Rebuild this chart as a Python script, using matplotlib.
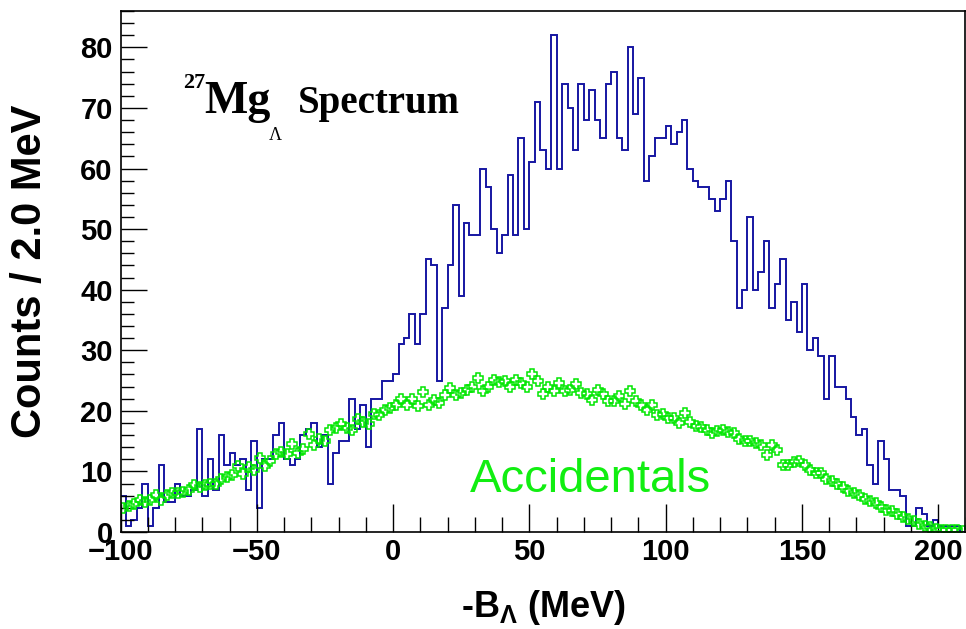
import numpy as np
import matplotlib
matplotlib.use("Agg")
import matplotlib.pyplot as plt
from matplotlib.ticker import MultipleLocator

# binning of the spectrum (MeV)
bin_lo = -100
bin_hi = 210
bin_w = 2

# Mg-27 Lambda spectrum, counts per 2 MeV bin
counts = [
    6, 1, 2, 4, 8, 1, 4, 11, 5, 5,
    8, 6, 6, 7, 17, 6, 12, 7, 16, 11,
    13, 11, 12, 7, 15, 4, 12, 12, 16, 18,
    12, 11, 12, 16, 17, 18, 14, 16, 8, 13,
    15, 15, 22, 17, 21, 14, 22, 22, 25, 25,
    26, 31, 32, 36, 31, 36, 45, 44, 25, 37,
    44, 54, 39, 51, 49, 49, 60, 57, 50, 46,
    49, 59, 49, 65, 50, 61, 71, 63, 60, 82,
    60, 74, 70, 63, 74, 68, 73, 68, 65, 74,
    76, 65, 63, 80, 69, 75, 58, 62, 65, 65,
    67, 64, 66, 68, 60, 58, 57, 57, 55, 53,
    55, 58, 48, 37, 40, 52, 40, 43, 48, 37,
    41, 45, 35, 38, 33, 41, 30, 32, 29, 22,
    29, 24, 24, 22, 19, 16, 17, 11, 8, 15,
    12, 7, 7, 6, 1, 1, 4, 3, 1, 2,
    1, 1, 1, 1, 0,
]

# accidental background, one point per bin
accidentals = [
    3.9, 4.3, 4.6, 5.2, 5.0, 5.3, 6.1, 5.2, 6.1, 6.4,
    6.5, 6.6, 7.0, 7.8, 7.5, 7.8, 8.0, 7.9, 8.8, 9.0,
    9.4, 10.9, 9.6, 10.7, 10.3, 12.2, 10.9, 11.7, 12.9, 13.2,
    12.9, 14.6, 13.0, 13.7, 16.1, 14.3, 15.3, 15.0, 16.9, 17.1,
    17.8, 17.1, 16.9, 18.6, 18.2, 17.9, 19.5, 19.3, 20.2, 20.5,
    20.9, 21.9, 21.0, 21.9, 20.8, 23.1, 20.9, 21.8, 21.3, 22.6,
    23.7, 22.6, 23.0, 23.4, 24.0, 25.4, 23.2, 24.0, 25.1, 24.7,
    25.0, 24.0, 25.1, 24.6, 24.0, 26.1, 25.0, 22.8, 23.9, 23.3,
    24.6, 23.2, 23.5, 24.4, 23.0, 22.8, 21.8, 23.5, 22.7, 21.6,
    21.7, 22.4, 21.1, 23.3, 21.7, 21.0, 20.2, 20.9, 19.3, 19.5,
    18.8, 18.9, 18.0, 19.6, 18.2, 17.5, 17.4, 16.8, 16.4, 16.7,
    16.8, 16.5, 16.3, 15.4, 15.0, 15.0, 14.7, 14.3, 12.7, 14.3,
    13.6, 11.1, 11.1, 11.6, 11.8, 11.0, 10.2, 9.7, 9.8, 8.8,
    8.5, 8.0, 7.4, 6.7, 6.5, 6.1, 5.5, 5.1, 4.8, 4.2,
    3.7, 3.5, 3.0, 2.4, 2.2, 1.8, 1.3, 1.0, 0.8, 0.55,
    0.4, 0.4, 0.3, 0.4, 0.2,
]

edges = np.arange(bin_lo, bin_hi + bin_w, bin_w)
centers = edges[:-1] + bin_w / 2

plt.rcParams["font.family"] = ["Liberation Sans", "DejaVu Sans"]
plt.rcParams["font.weight"] = "bold"
plt.rcParams["mathtext.fontset"] = "custom"
plt.rcParams["mathtext.rm"] = "Liberation Sans:bold"
plt.rcParams["mathtext.bf"] = "Liberation Sans:bold"

W, H = 966, 629
fig = plt.figure(figsize=(W / 100, H / 100), dpi=100)
ax = fig.add_axes([120.5 / W, 97 / H, 845 / W, 521 / H])

# histogram and accidentals
ax.stairs(counts, edges, color="#1616a2", lw=1.4, baseline=None)
ax.plot(centers, accidentals, ls="none", marker="P", ms=7.5,
        mfc="none", mec="#00e600", mew=1.1)

ax.set_xlim(bin_lo, bin_hi)
ax.set_ylim(0, 86)

# ROOT-like inward ticks
ax.xaxis.set_major_locator(MultipleLocator(50))
ax.xaxis.set_minor_locator(MultipleLocator(10))
ax.yaxis.set_major_locator(MultipleLocator(10))
ax.yaxis.set_minor_locator(MultipleLocator(2))
ax.tick_params(which="both", direction="in", top=False, right=False, width=1.0)
ax.tick_params(axis="x", which="major", length=20, pad=4, labelsize=21)
ax.tick_params(axis="x", which="minor", length=10.5)
ax.tick_params(axis="y", which="major", length=19, pad=5.5, labelsize=21)
ax.tick_params(axis="y", which="minor", length=9.5)
for s in ax.spines.values():
    s.set_linewidth(1.2)

ax.set_xlabel(r"-B$_{\mathbf{\Lambda}}$ (MeV)", fontsize=26, fontweight="bold", va="baseline")
ax.xaxis.set_label_coords(0.5, (532 - 617) / 521)
ax.set_ylabel("Counts / 2.0 MeV", fontsize=30, fontweight="bold", va="center")
ax.yaxis.set_label_coords((30 - 120.5) / 845, 0.5)

# title inset: 27Mg_Lambda Spectrum
serif = ["Liberation Serif", "DejaVu Serif"]
fig.text(183 / W, 1 - 88 / H, "27", family=serif, fontsize=16, weight="bold", va="baseline")
fig.text(204 / W, 1 - 113 / H, "Mg", family=serif, fontsize=33, weight="bold", va="baseline")
fig.text(269 / W, 1 - 140 / H, "Λ", family=serif, fontsize=13, weight="normal", va="baseline")
fig.text(298 / W, 1 - 113 / H, "Spectrum", family=serif, fontsize=28, weight="bold", va="baseline")

# label for the background points
fig.text(470 / W, 1 - 492 / H, "Accidentals", fontsize=34, weight="normal",
         color="#11ee11", va="baseline")

fig.savefig("out.png", dpi=100)
